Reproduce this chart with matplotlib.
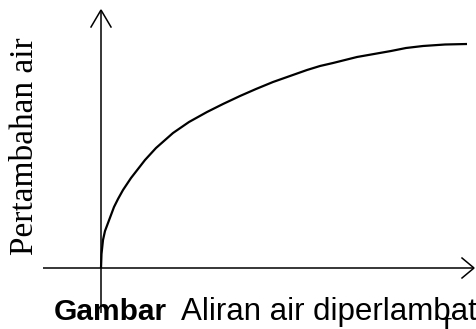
import matplotlib
matplotlib.use("Agg")
import matplotlib.pyplot as plt

# Schematic curve: water increase vs time (arbitrary units)
t_vals = [0, 0.5, 2, 4, 7, 10, 13, 17, 22, 30, 44, 55, 72, 88, 106, 122, 139,
          155, 172, 189, 206, 219, 232, 244, 256, 273, 290, 305, 322, 344, 366]
water_vals = [0, 14, 28, 37, 45, 53, 61, 69, 78, 90, 108, 120, 135, 146, 156,
              164, 172, 179, 186, 192, 198, 202, 205, 208, 211, 214, 217, 220,
              222, 223.5, 224]

y_label = "Pertambahan air"
caption_bold = "Gambar"
caption_text = "Aliran air diperlambat"
x_label = "t"

fig = plt.figure(figsize=(4.77, 3.29), dpi=100)
ax = fig.add_axes([0, 0, 1, 1])
ax.set_xlim(-101, 376)
ax.set_ylim(-61, 268)
ax.axis("off")

lw_axis = 1.1
# y axis with open arrow head
ax.plot([0, 0], [-45, 258], color="black", lw=lw_axis, solid_capstyle="butt")
ax.plot([-10, 0, 10], [241, 258, 241], color="black", lw=lw_axis,
        solid_joinstyle="miter")
# x axis with open arrow head
ax.plot([-58, 373], [0, 0], color="black", lw=lw_axis, solid_capstyle="butt")
ax.plot([361, 373, 361], [10, 0, -10], color="black", lw=lw_axis,
        solid_joinstyle="miter")

# curve
ax.plot(t_vals, water_vals, color="black", lw=1.6, solid_capstyle="butt",
        solid_joinstyle="round")

# labels
ax.text(-76, 121.5, y_label, rotation=90, ha="center", va="center",
        fontsize=24, family="Liberation Serif")
ax.text(-47, -52, caption_bold, ha="left", va="baseline", fontsize=21.5,
        fontweight="bold", family="Liberation Sans")
ax.text(80, -52, caption_text, ha="left", va="baseline", fontsize=22.5,
        family="Liberation Sans")
ax.text(346, -43, x_label, ha="center", va="top", fontsize=24,
        family="Liberation Serif")

fig.savefig("out.png", dpi=100)
